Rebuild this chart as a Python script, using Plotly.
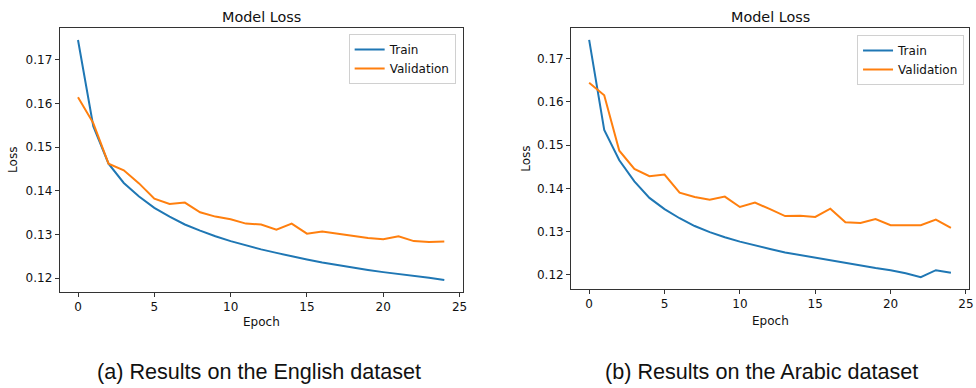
import plotly.graph_objects as go

epochs = list(range(25))

train_en = [0.1745, 0.1548, 0.1462, 0.1418, 0.1387, 0.1361, 0.1341, 0.1323, 0.1309, 0.1296,
            0.1285, 0.1275, 0.1266, 0.1258, 0.1250, 0.1243, 0.1236, 0.1230, 0.1224, 0.1219,
            0.1214, 0.1210, 0.1206, 0.1201, 0.1196]
val_en = [0.1614, 0.1555, 0.1462, 0.1447, 0.1417, 0.1382, 0.1370, 0.1373, 0.1351, 0.1341,
          0.1335, 0.1325, 0.1323, 0.1311, 0.1325, 0.1302, 0.1307, 0.1302, 0.1297, 0.1292,
          0.1289, 0.1296, 0.1285, 0.1283, 0.1284]

train_ar = [0.1743, 0.1535, 0.1465, 0.1416, 0.1378, 0.1352, 0.1331, 0.1313, 0.1299, 0.1287,
            0.1277, 0.1268, 0.1260, 0.1252, 0.1246, 0.1239, 0.1233, 0.1227, 0.1221, 0.1216,
            0.1211, 0.1204, 0.1195, 0.1211, 0.1205]
val_ar = [0.1644, 0.1615, 0.1487, 0.1445, 0.1428, 0.1432, 0.1390, 0.1380, 0.1374, 0.1381,
          0.1357, 0.1367, 0.1352, 0.1336, 0.1337, 0.1334, 0.1353, 0.1322, 0.1320, 0.1329,
          0.1315, 0.1315, 0.1315, 0.1328, 0.1309]

series_names = ["Train", "Validation"]
colors = ["#1f77b4", "#ff7f0e"]
titles = ["Model Loss", "Model Loss"]
captions = ["(a) Results on the English dataset", "(b) Results on the Arabic dataset"]
x_label = "Epoch"
y_label = "Loss"
x_ticks = [0, 5, 10, 15, 20, 25]
y_ticks = [0.12, 0.13, 0.14, 0.15, 0.16, 0.17]

W, H = 976, 388


def px_x(p):
    return p / W


def px_y(p):
    return 1 - p / H


def mpl_range(vals):
    lo, hi = min(vals), max(vals)
    m = 0.05 * (hi - lo)
    return [lo - m, hi + m]


panels = [
    dict(data=[train_en, val_en], xd=[60, 465], yd=[28, 292], ax="x", ay="y", leg="legend",
         legx=458, legy=34, ylab_x=13, xlab_y=322, caption_x=260),
    dict(data=[train_ar, val_ar], xd=[574, 974], yd=[28, 289], ax="x2", ay="y2", leg="legend2",
         legx=969, legy=35, ylab_x=528, xlab_y=321, caption_x=765),
]

fig = go.Figure()
tick_font = dict(family="DejaVu Sans", size=12, color="#111")
layout = dict(width=W, height=H, margin=dict(l=0, r=0, t=0, b=0),
              paper_bgcolor="white", plot_bgcolor="white", showlegend=True)
annotations = []

for i, p in enumerate(panels):
    for name, vals, col in zip(series_names, p["data"], colors):
        fig.add_trace(go.Scatter(x=epochs, y=vals, mode="lines", name=name,
                                 line=dict(color=col, width=2), xaxis=p["ax"], yaxis=p["ay"],
                                 legend=p["leg"]))
    xk = "xaxis" if i == 0 else "xaxis2"
    yk = "yaxis" if i == 0 else "yaxis2"
    allv = p["data"][0] + p["data"][1]
    layout[xk] = dict(domain=[px_x(p["xd"][0]), px_x(p["xd"][1])], range=[-1.2, 25.2],
                      anchor=p["ay"], tickvals=x_ticks, ticks="outside", ticklen=4,
                      tickcolor="#333", showline=True, linecolor="#333", linewidth=1,
                      mirror=True, showgrid=False, zeroline=False, tickfont=tick_font)
    layout[yk] = dict(domain=[px_y(p["yd"][1]), px_y(p["yd"][0])], range=mpl_range(allv),
                      anchor=p["ax"], tickvals=y_ticks, ticktext=[f"{v:.2f}" for v in y_ticks],
                      ticks="outside", ticklen=4, tickcolor="#333", showline=True,
                      linecolor="#333", linewidth=1, mirror=True, showgrid=False,
                      zeroline=False, tickfont=tick_font)
    layout[p["leg"]] = dict(x=px_x(p["legx"]), y=px_y(p["legy"]), xanchor="right", yanchor="top",
                            bgcolor="rgba(255,255,255,0.8)", bordercolor="#d0d0d0", borderwidth=1,
                            font=dict(family="DejaVu Sans", size=12, color="#111"),
                            tracegroupgap=0, itemwidth=30)
    cx = (p["xd"][0] + p["xd"][1]) / 2
    annotations.append(dict(text=titles[i], x=px_x(cx), y=px_y(17), xref="paper", yref="paper",
                            showarrow=False, xanchor="center", yanchor="middle",
                            font=dict(family="DejaVu Sans", size=14.4, color="#111")))
    annotations.append(dict(text=x_label, x=px_x(cx), y=px_y(p["xlab_y"]), xref="paper",
                            yref="paper", showarrow=False, xanchor="center", yanchor="middle",
                            font=dict(family="DejaVu Sans", size=12, color="#111")))
    annotations.append(dict(text=y_label, x=px_x(p["ylab_x"]), y=px_y((p["yd"][0] + p["yd"][1]) / 2),
                            xref="paper", yref="paper", showarrow=False, textangle=-90,
                            xanchor="center", yanchor="middle",
                            font=dict(family="DejaVu Sans", size=12, color="#111")))
    annotations.append(dict(text=captions[i], x=px_x(p["caption_x"]), y=px_y(371), xref="paper",
                            yref="paper", showarrow=False, xanchor="center", yanchor="middle",
                            font=dict(family="Liberation Sans", size=21.6, color="#111")))

layout["annotations"] = annotations
fig.update_layout(**layout)
fig.write_html("out.html")
